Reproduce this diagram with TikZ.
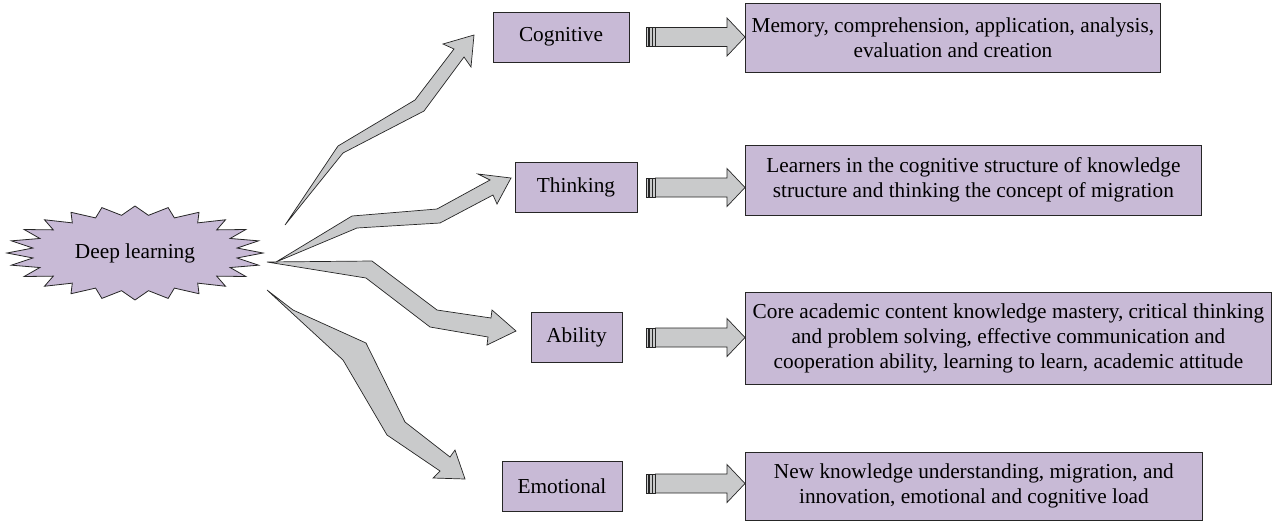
\documentclass[tikz,border=0pt]{standalone}
\usepackage{fontspec}
\setmainfont{Liberation Serif}
\usetikzlibrary{backgrounds}
\definecolor{lavender}{RGB}{200,186,214}
\definecolor{arrowgray}{RGB}{201,202,203}
\colorlet{edge}{black!85}
\newcommand{\textmem}{Memory, comprehension, application, analysis,\\ evaluation and creation}
\newcommand{\textlearn}{Learners in the cognitive structure of knowledge\\ structure and thinking the concept of migration}
\newcommand{\textcore}{Core academic content knowledge mastery, critical thinking\\ and problem solving, effective communication and\\ cooperation ability, learning to learn, academic attitude}
\newcommand{\textnew}{New knowledge understanding, migration, and\\ innovation, emotional and cognitive load}

\begin{document}
\begin{tikzpicture}[x=1pt,y=-1pt,
    any/.style={draw=edge,line width=0.8pt,fill=lavender,%
                align=center,inner sep=0pt,font=\fontsize{21.3}{25}\selectfont},
    catbox/.style={any,minimum height=50pt},
    descbox/.style={any,anchor=west},
    zigzag/.style={draw=edge,line width=0.7pt,fill=arrowgray,line join=miter},
    bar/.style={draw=edge,line width=0.4pt,fill=arrowgray},
    burst/.style={draw=edge,line width=0.8pt,fill=lavender},
    pics/stripe/.style={code={
        \draw[bar] (-99,-9.5) rectangle (-96.5,9.5);
        \draw[bar] (-95.7,-9.5) rectangle (-93.2,9.5);
        \draw[bar] (-92.4,-9.5) rectangle (-90.1,9.5);
        \draw[zigzag] (-89.5,-9.5) -- (-18,-9.5) -- (-18,-19) -- (0,0)
            -- (-18,19) -- (-18,9.5) -- (-89.5,9.5) -- cycle;
    }}
]
\useasboundingbox (0,0) rectangle (1279,523);

% centre node
\node[font=\fontsize{21.3}{25}\selectfont] (deep) at (135,253) {Deep learning};
\begin{scope}[on background layer,shift={(deep.center)}]
\draw[burst] (0:128 and 47) \foreach \a in {0,15,...,345}{ -- (\a:128 and 47) -- ({\a+7.5}:103 and 38)} -- cycle;
\end{scope}

% categories
\node[catbox,minimum width=136pt] (cog) at (561,37) {Cognitive};
\node[catbox,minimum width=122pt] (think) at (576,187.5) {Thinking};
\node[catbox,minimum width=91pt] (abil) at (576.5,337.5) {Ability};
\node[catbox,minimum width=120pt] (emo) at (562,486.5) {Emotional};

% descriptions
\node[descbox,minimum width=415pt,minimum height=69pt] (mem) at (745,37.5) {\textmem};
\node[descbox,minimum width=456pt,minimum height=70pt] (learn) at (745,180) {\textlearn};
\node[descbox,minimum width=526pt,minimum height=92pt] (core) at (745,338) {\textcore};
\node[descbox,minimum width=457pt,minimum height=68pt] (new) at (745,486) {\textnew};

% zigzag arrows
\draw[zigzag] (285,225) -- (338,146) -- (415,100) -- (454,49) -- (443,44) -- (474,35)
    -- (471,67) -- (464,57) -- (424,111) -- (343,153) -- cycle;
\draw[zigzag] (276,262) -- (352,216) -- (437,209) -- (490,180) -- (478,174) -- (511,178)
    -- (497,204) -- (493,195) -- (440,223) -- (357,228) -- cycle;
\draw[zigzag] (267,262) -- (372,261) -- (437,310) -- (491,318) -- (492,310) -- (516,331)
    -- (487,345) -- (488,337) -- (430,327) -- (366,278) -- cycle;
\draw[zigzag] (267,290) -- (293,310) -- (366,343) -- (405,422) -- (450,457) -- (455,450)
    -- (465,479) -- (433,478) -- (440,471) -- (387,435) -- (343,360) -- cycle;

% striped arrows
\pic at (mem.west |- cog.east) {stripe};
\pic at (learn.west |- think.east) {stripe};
\pic at (core.west |- abil.east) {stripe};
\pic at ([yshift=3pt]new.west |- emo.east) {stripe};

\end{tikzpicture}
\end{document}
